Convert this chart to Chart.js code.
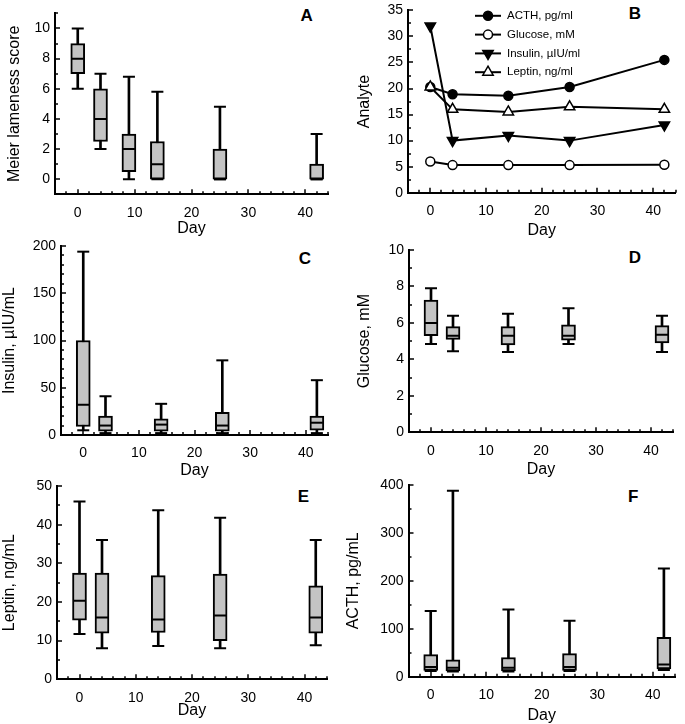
<!DOCTYPE html>
<html>
<head>
<meta charset="utf-8">
<script src="https://cdn.jsdelivr.net/npm/chart.js@4.4.0/dist/chart.umd.min.js"></script>
<style>
  body { margin: 0; width: 685px; height: 724px; overflow: hidden; background: #fff; position: relative;
         font-family: 'Liberation Sans', Arial, sans-serif; }
  .tag { position: absolute; font-weight: bold; font-size: 17px; transform: translate(-50%, -50%); line-height: 1; }
</style>
</head>
<body>
<div class="tag" style="left:306.7px;top:15.3px">A</div>
<div class="tag" style="left:635px;top:13.3px">B</div>
<div class="tag" style="left:305px;top:258.3px">C</div>
<div class="tag" style="left:635px;top:257.3px">D</div>
<div class="tag" style="left:303.3px;top:496px">E</div>
<div class="tag" style="left:633.3px;top:496px">F</div>
<script>
// panel A: Meier lameness score
const daysA = [0, 4, 9, 14, 25, 42];
const meierMin = [6, 2, 0, 0, 0, 0];
const meierQ1 = [7, 2.5, 0.5, 0, 0, 0];
const meierMed = [8, 4, 2, 1, 0, 0];
const meierQ3 = [9, 6, 3, 2.5, 2, 1];
const meierMax = [10, 7, 6.8, 5.8, 4.8, 3];

// panels B-F: sampling days
const days = [0, 4, 14, 25, 42];

// medians (panel B and the box medians)
const acthMedian = [20.3, 18.9, 18.6, 20.3, 25.5];
const glucoseMedian = [6.0, 5.3, 5.3, 5.3, 5.35];
const insulinMedian = [32, 10, 11, 10, 13];
const leptinMedian = [20.3, 16.0, 15.5, 16.5, 16.0];

// C insulin
const insulinMin = [5, 2, 2, 2, 2];
const insulinQ1 = [9, 4, 4, 4, 5];
const insulinQ3 = [100, 20, 17, 24, 20];
const insulinMax = [194, 41, 33, 79, 58];

// D glucose
const glucoseMin = [4.85, 4.45, 4.4, 4.85, 4.4];
const glucoseQ1 = [5.3, 5.1, 4.8, 5.05, 4.9];
const glucoseQ3 = [7.25, 5.8, 5.8, 5.9, 5.85];
const glucoseMax = [7.9, 6.4, 6.5, 6.8, 6.4];

// E leptin
const leptinMin = [11.7, 8, 8.6, 8, 8.8];
const leptinQ1 = [15.3, 11.9, 12.1, 10, 11.9];
const leptinQ3 = [27.5, 27.5, 26.8, 27.2, 24.2];
const leptinMax = [46, 36, 43.7, 41.8, 36];

// F ACTH
const acthMin = [12, 11, 11, 12, 14];
const acthQ1 = [13, 12, 12, 13, 16];
const acthQ3 = [46, 35, 40, 48, 82];
const acthMax = [137, 388, 140, 117, 226];

Chart.defaults.font.family = "'Liberation Sans', Arial, sans-serif";
Chart.defaults.color = '#000';
Chart.defaults.animation = false;

const tickFont = {size: 14};
const titleFont = {size: 16};
const boxGray = '#c4c4c4';

// small inward tick marks (major at labelled ticks, minor every stepSize)
const inwardTicks = {
  id: 'inwardTicks',
  afterDraw(chart) {
    const ctx = chart.ctx;
    const area = chart.chartArea;
    ctx.save();
    ctx.strokeStyle = '#000';
    ctx.lineWidth = 1.5;
    ['x', 'y'].forEach(function(id) {
      const s = chart.scales[id];
      const step = s.options.ticks.stepSize;
      const majors = s.ticks.map(function(t) { return t.value; });
      const first = Math.ceil(s.min / step - 1e-9);
      const last = Math.floor(s.max / step + 1e-9);
      for (let k = first; k <= last; k++) {
        const v = k * step;
        const isMajor = majors.some(function(m) { return Math.abs(m - v) < 1e-6; });
        const len = isMajor ? 5 : 3;
        const p = Math.round(s.getPixelForValue(v));
        ctx.beginPath();
        if (id === 'x') {
          ctx.moveTo(p, area.bottom);
          ctx.lineTo(p, area.bottom - len);
        } else {
          ctx.moveTo(area.left, p);
          ctx.lineTo(area.left + len, p);
        }
        ctx.stroke();
      }
    });
    ctx.restore();
  }
};

function marker(ctx, style, x, y, r, rot, fill) {
  ctx.beginPath();
  if (style === 'circle') {
    ctx.arc(x, y, r, 0, Math.PI * 2);
  } else {
    let a = (rot || 0) * Math.PI / 180;
    for (let k = 0; k < 3; k++) {
      const px = x + Math.sin(a) * r, py = y - Math.cos(a) * r;
      if (k) ctx.lineTo(px, py); else ctx.moveTo(px, py);
      a += 2 * Math.PI / 3;
    }
    ctx.closePath();
  }
  ctx.fillStyle = fill;
  ctx.fill();
  ctx.stroke();
}

// legend inside panel B (line + marker + text)
const insideLegend = {
  id: 'insideLegend',
  afterDraw(chart, args, o) {
    const ctx = chart.ctx;
    const area = chart.chartArea;
    ctx.save();
    ctx.strokeStyle = '#000';
    ctx.font = o.size + "px 'Liberation Sans', Arial, sans-serif";
    ctx.textBaseline = 'middle';
    chart.data.datasets.forEach(function(ds, i) {
      const y = area.top + o.dy + i * o.gap;
      const x0 = area.left + o.dx;
      ctx.lineWidth = 2;
      ctx.beginPath();
      ctx.moveTo(x0, y);
      ctx.lineTo(x0 + o.len, y);
      ctx.stroke();
      ctx.lineWidth = ds.pointBorderWidth;
      marker(ctx, ds.pointStyle, x0 + o.len / 2, y, ds.pointRadius, ds.pointRotation, ds.pointBackgroundColor);
      ctx.fillStyle = '#000';
      ctx.fillText(ds.label, x0 + o.len + o.textGap, y);
    });
    ctx.restore();
  }
};

function place(g) {
  const c = document.createElement('canvas');
  const w = Math.ceil(g.areaR - g.left) + 3;
  const h = Math.round(g.areaB - g.top + g.xh);
  c.width = w;
  c.height = h;
  c.style.cssText = 'position:absolute;left:' + g.left + 'px;top:' + g.top + 'px;width:' + w + 'px;height:' + h + 'px';
  document.body.appendChild(c);
  return {
    canvas: c,
    padTop: g.areaT - g.top,
    padRight: w - (g.areaR - g.left),
    yw: g.areaL - g.left,
    xh: h - (g.areaB - g.top),
    titlePad: g.titlePad
  };
}

function scales(fit, y) {
  return {
    x: {
      type: 'linear', min: -4, max: 44, offset: false,
      grid: {display: false, drawTicks: false},
      border: {display: true, color: '#000', width: 2},
      ticks: {stepSize: 2, autoSkip: false, maxRotation: 0, padding: 10, font: tickFont,
        callback: function(v) { return v % 10 === 0 ? String(v) : null; }},
      title: {display: true, text: 'Day', font: titleFont, padding: {top: 4, bottom: 4}},
      afterFit: function(s) { s.height = fit.xh; }
    },
    y: {
      type: 'linear', position: 'left', min: y.min, max: y.max,
      grid: {display: false, drawTicks: false},
      border: {display: true, color: '#000', width: 2},
      ticks: {stepSize: y.step, autoSkip: false, padding: 5, font: tickFont,
        callback: function(v) {
          const k = v / y.label;
          return Math.abs(k - Math.round(k)) < 1e-6 ? String(v) : null;
        }},
      title: {display: true, text: y.title, font: titleFont, padding: {top: fit.titlePad, bottom: 4}},
      afterFit: function(s) { s.width = fit.yw; }
    }
  };
}

function baseOptions(fit, y) {
  return {
    responsive: false,
    devicePixelRatio: 1,
    events: [],
    layout: {padding: {left: 0, top: fit.padTop, right: fit.padRight, bottom: 0}},
    scales: scales(fit, y),
    plugins: {legend: {display: false}, tooltip: {enabled: false}}
  };
}

function boxPlot(g, x, mn, q1, md, q3, mx, y) {
  const fit = place(g);
  const pts = function(v) { return x.map(function(d, i) { return {x: d, y: v[i]}; }); };
  new Chart(fit.canvas, {
    type: 'bar',
    data: {
      datasets: [
        {
          type: 'bar', order: 3, grouped: false, barThickness: 2,
          data: x.map(function(d, i) { return {x: d, y: [mn[i], mx[i]]}; }),
          backgroundColor: '#000', borderWidth: 0
        },
        {
          type: 'bar', order: 2, grouped: false, barThickness: 14,
          data: x.map(function(d, i) { return {x: d, y: [q1[i], q3[i]]}; }),
          backgroundColor: boxGray, borderColor: '#000', borderWidth: 2, borderSkipped: false
        },
        {
          type: 'line', order: 1, showLine: false,
          data: pts(mx).concat(pts(mn)),
          pointStyle: 'line', pointRadius: 6, pointBorderWidth: 2, pointBorderColor: '#000'
        },
        {
          type: 'line', order: 0, showLine: false,
          data: pts(md),
          pointStyle: 'line', pointRadius: 6, pointBorderWidth: 2, pointBorderColor: '#000'
        }
      ]
    },
    options: baseOptions(fit, y),
    plugins: [inwardTicks]
  });
}

// A
boxPlot({left: 0, top: 0, areaL: 55, areaR: 333, areaT: 1, areaB: 194.3, xh: 47.6, titlePad: 5.4},
  daysA, meierMin, meierQ1, meierMed, meierQ3, meierMax,
  {min: -1, max: 11, step: 1, label: 2, title: 'Meier lameness score'});

// B
(function() {
  const fit = place({left: 342, top: -3, areaL: 408, areaR: 680, areaT: 7.3, areaB: 192.7, xh: 51, titlePad: 13.4});
  const line = function(label, v, style, r, fill, rot, order) {
    return {
      label: label, order: order,
      data: days.map(function(d, i) { return {x: d, y: v[i]}; }),
      borderColor: '#000', borderWidth: 2, tension: 0,
      pointStyle: style, pointRadius: r, pointRotation: rot,
      pointBackgroundColor: fill, pointBorderColor: '#000', pointBorderWidth: 1.5
    };
  };
  const opts = baseOptions(fit, {min: 0, max: 35, step: 2.5, label: 5, title: 'Analyte'});
  opts.plugins.insideLegend = {dx: 67, dy: 5.4, gap: 18.8, len: 26, textGap: 6, size: 11.5};
  new Chart(fit.canvas, {
    type: 'line',
    data: {
      datasets: [
        line('ACTH, pg/ml', acthMedian, 'circle', 4.5, '#000', 0, 4),
        line('Glucose, mM', glucoseMedian, 'circle', 4.5, '#fff', 0, 3),
        line('Insulin, µIU/ml', insulinMedian, 'triangle', 6, '#000', 180, 2),
        line('Leptin, ng/ml', leptinMedian, 'triangle', 6, '#fff', 0, 1)
      ]
    },
    options: opts,
    plugins: [inwardTicks, insideLegend]
  });
})();

// C
boxPlot({left: 0, top: 228, areaL: 61, areaR: 333, areaT: 246, areaB: 435, xh: 48.6, titlePad: 0},
  days, insulinMin, insulinQ1, insulinMedian, insulinQ3, insulinMax,
  {min: 0, max: 200, step: 10, label: 50, title: 'Insulin, µIU/mL'});

// D
boxPlot({left: 342, top: 228, areaL: 409, areaR: 678, areaT: 250, areaB: 432.3, xh: 50.6, titlePad: 13.4},
  days, glucoseMin, glucoseQ1, glucoseMedian, glucoseQ3, glucoseMax,
  {min: 0, max: 10, step: 1, label: 2, title: 'Glucose, mM'});

// E
boxPlot({left: 0, top: 468, areaL: 57, areaR: 332, areaT: 486, areaB: 679.3, xh: 44.3, titlePad: 0},
  days, leptinMin, leptinQ1, leptinMedian, leptinQ3, leptinMax,
  {min: 0, max: 50, step: 5, label: 10, title: 'Leptin, ng/mL'});

// F
boxPlot({left: 342, top: 468, areaL: 408.5, areaR: 680, areaT: 485, areaB: 676.7, xh: 52, titlePad: 2.4},
  days, acthMin, acthQ1, acthMedian, acthQ3, acthMax,
  {min: 0, max: 400, step: 50, label: 100, title: 'ACTH, pg/mL'});
</script>
</body>
</html>
